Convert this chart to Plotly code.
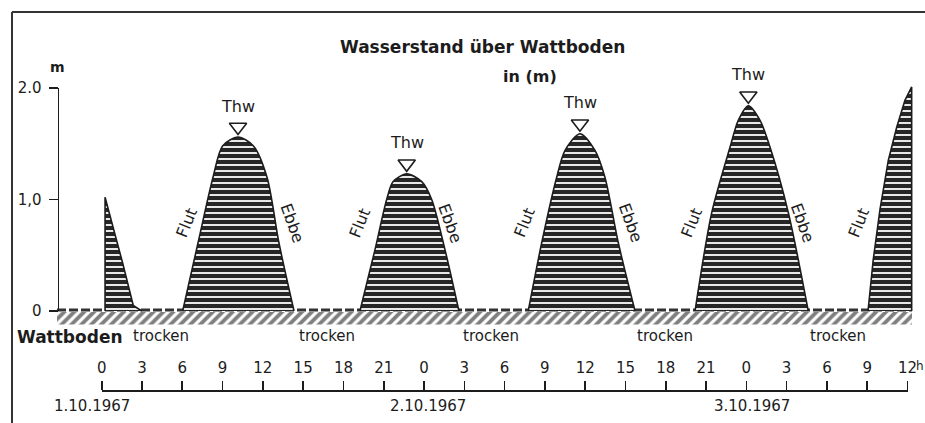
import plotly.graph_objects as go

INK = '#1c1c1c'
FONT = 'DejaVu Sans'
W, H = 925, 423

# ---------------- data (hours since 1.10.1967 00:00, water level in m) -------------
cycle0_hours = [0.25, 0.25, 1.56, 2.35, 2.98]
cycle0_level = [0.0, 1.02, 0.43, 0.05, 0.0]
cycle1_hours = [6.03, 7.17, 8.29, 9.00, 10.15, 11.30, 12.31, 13.20, 14.32]
cycle1_level = [0.0, 0.61, 1.20, 1.48, 1.56, 1.48, 1.20, 0.61, 0.0]
cycle2_hours = [19.23, 20.35, 21.22, 21.69, 22.71, 23.83, 24.57, 25.56, 26.60]
cycle2_level = [0.0, 0.55, 1.00, 1.16, 1.23, 1.16, 1.00, 0.55, 0.0]
cycle3_hours = [31.76, 32.76, 33.88, 34.50, 35.61, 36.73, 37.47, 38.47, 39.71]
cycle3_level = [0.0, 0.61, 1.20, 1.44, 1.59, 1.44, 1.20, 0.61, 0.0]
cycle4_hours = [44.18, 45.42, 46.79, 47.40, 48.15, 49.02, 49.76, 51.13, 52.61]
cycle4_level = [0.0, 0.88, 1.47, 1.71, 1.84, 1.71, 1.47, 0.88, 0.0]
cycle5_hours = [57.06, 57.45, 57.95, 58.57, 59.20, 59.81, 60.31, 60.31]
cycle5_level = [0.0, 0.46, 0.91, 1.35, 1.65, 1.89, 2.01, 0.0]

flut_hours = [6.35, 19.25, 31.5, 43.95, 56.4]
ebbe_hours = [14.15, 25.9, 39.35, 52.15]
trocken_hours = [4.42, 16.77, 28.98, 41.95, 54.82]
date_hours = [-0.7, 24.3, 48.4]
date_labels = ['1.10.1967', '2.10.1967', '3.10.1967']
hour_ticks = list(range(0, 61, 3))
hour_labels = [str(h % 24) for h in hour_ticks]
level_ticks = [0, 1, 2]
level_labels = ['0', '1,0', '2.0']

# ---------------- layout geometry (pixel mapping of the drawing) ----------------
X0_PX, PX_PER_H = 101.7, 13.43
Y0_PX, PX_PER_M = 311.0, 111.5
X_RANGE = [-X0_PX / PX_PER_H, (W - X0_PX) / PX_PER_H]
Y_RANGE = [-(H - Y0_PX) / PX_PER_M, Y0_PX / PX_PER_M]
GROUND = [(57 - X0_PX) / PX_PER_H, (912 - X0_PX) / PX_PER_H]

fig = go.Figure()

# hatched ground (Wattboden)
fig.add_trace(go.Scatter(
    x=[GROUND[0], GROUND[1], GROUND[1], GROUND[0], GROUND[0]],
    y=[-0.01, -0.01, -0.12, -0.12, -0.01],
    mode='lines', fill='toself', line=dict(width=0),
    fillcolor='white',
    fillpattern=dict(shape='/', fgcolor='#000000', bgcolor='white', size=7, solidity=0.55),
    hoverinfo='skip', showlegend=False))

# dashed dry-bottom line
fig.add_trace(go.Scatter(
    x=[GROUND[0], GROUND[1]], y=[0.008, 0.008], mode='lines',
    line=dict(color='#333333', width=3, dash='9px,3px'),
    hoverinfo='skip', showlegend=False))

cycles = [(cycle0_hours, cycle0_level, 'linear'),
          (cycle1_hours, cycle1_level, 'spline'),
          (cycle2_hours, cycle2_level, 'spline'),
          (cycle3_hours, cycle3_level, 'spline'),
          (cycle4_hours, cycle4_level, 'spline'),
          (cycle5_hours, cycle5_level, 'linear')]
for hrs, lev, shp in cycles:
    fig.add_trace(go.Scatter(
        x=hrs, y=lev, mode='lines', fill='toself',
        line=dict(color=INK, width=1.6, shape=shp, smoothing=0.8),
        fillcolor='#262626',
        fillpattern=dict(shape='-', fgcolor='white', bgcolor='#262626',
                         size=6, solidity=0.3, fillmode='replace'),
        hoverinfo='skip', showlegend=False))

# Thw (Tidehochwasser) markers
full = [(cycle1_hours, cycle1_level), (cycle2_hours, cycle2_level),
        (cycle3_hours, cycle3_level), (cycle4_hours, cycle4_level)]
thw_h = [h[l.index(max(l))] for h, l in full]
thw_m = [max(l) for h, l in full]
fig.add_trace(go.Scatter(
    x=thw_h, y=[m + 0.09 for m in thw_m], mode='markers',
    marker=dict(symbol='triangle-down-open', size=15, color=INK,
                line=dict(width=1.6, color=INK)),
    hoverinfo='skip', showlegend=False))

# dummy traces so that the real axes are drawn
fig.add_trace(go.Scatter(x=[None], y=[None], xaxis='x', yaxis='y2',
                         showlegend=False, hoverinfo='skip'))
fig.add_trace(go.Scatter(x=[None], y=[None], xaxis='x3', yaxis='y',
                         showlegend=False, hoverinfo='skip'))

ann = []
def txt(x, y, s, size=15, xref='x', yref='y', **kw):
    d = dict(x=x, y=y, text=s, xref=xref, yref=yref, showarrow=False,
             xanchor='center', yanchor='middle',
             font=dict(family=FONT, size=size, color=INK))
    d.update(kw)
    ann.append(d)

for h, m in zip(thw_h, thw_m):
    txt(h, m, 'Thw', size=16, yshift=31)
for h in flut_hours:
    txt(h, 0.79, 'Flut', size=16, textangle=-68)
for h in ebbe_hours:
    txt(h, 0.79, 'Ebbe', size=16, textangle=70)
for h in trocken_hours:
    txt(h, -0.224, 'trocken', size=15)
for h, s in zip(date_hours, date_labels):
    txt(h, (H - 406) / H, s, size=15, yref='paper')

txt(482 / W, (H - 47) / H, '<b>Wasserstand über Wattboden</b>', size=17, xref='paper', yref='paper')
txt(530 / W, (H - 76) / H, '<b>in (m)</b>', size=16, xref='paper', yref='paper')
txt(57 / W, (H - 67) / H, '<b>m</b>', size=14, xref='paper', yref='paper')
txt(15 / W, (H - 337) / H, '<b>Wattboden</b>', size=17, xref='paper', yref='paper', xanchor='left')
txt(920 / W, (H - 366) / H, 'h', size=12, xref='paper', yref='paper')

axis_common = dict(showline=True, linecolor=INK, linewidth=1.6, ticks='outside',
                   ticklen=9, tickwidth=1.6, tickcolor=INK, showgrid=False,
                   zeroline=False, fixedrange=True, automargin=False,
                   tickfont=dict(family=FONT, size=15, color=INK))

fig.update_layout(
    width=W, height=H, autosize=False,
    margin=dict(l=0, r=0, t=0, b=0, pad=0, autoexpand=False),
    paper_bgcolor='white', plot_bgcolor='rgba(0,0,0,0)',
    showlegend=False,
    xaxis=dict(domain=[0, 1], range=X_RANGE, visible=False, fixedrange=True, automargin=False),
    yaxis=dict(domain=[0, 1], range=Y_RANGE, visible=False, fixedrange=True, automargin=False),
    yaxis2=dict(domain=[(H - 311) / H, (H - 88) / H], range=[0, 2],
                anchor='free', position=57.5 / W, side='left',
                tickvals=level_ticks, ticktext=level_labels,
                ticklabelstandoff=4, **axis_common),
    xaxis3=dict(domain=[X0_PX / W, (X0_PX + 60 * PX_PER_H) / W], range=[0, 60],
                anchor='free', position=(H - 390) / H, side='top',
                tickvals=hour_ticks, ticktext=hour_labels,
                ticklabelstandoff=2, **axis_common),
    annotations=ann,
    shapes=[
        dict(type='line', xref='paper', yref='paper', x0=12 / W, x1=1,
             y0=(H - 12) / H, y1=(H - 12) / H, line=dict(color='#333', width=2)),
        dict(type='line', xref='paper', yref='paper', x0=12 / W, x1=12 / W,
             y0=0, y1=(H - 12) / H, line=dict(color='#333', width=2)),
    ],
)

fig.write_html('out.html',
               config={'displayModeBar': False, 'staticPlot': True},
               post_script="document.body.style.margin='0';document.body.style.overflow='hidden';")
